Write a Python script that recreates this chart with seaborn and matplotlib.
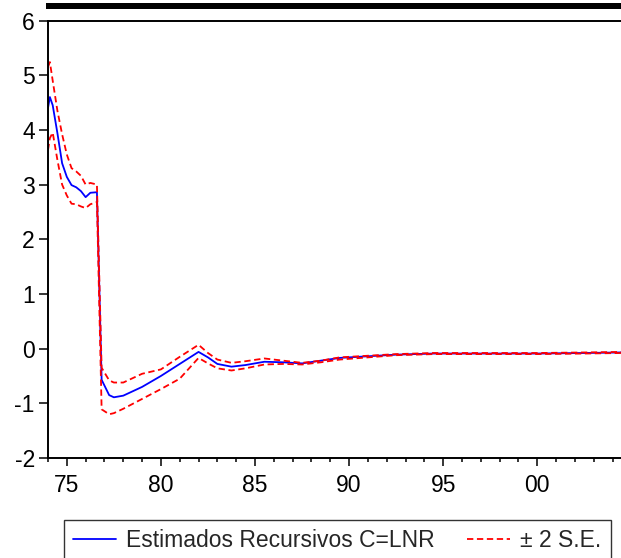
import numpy as np
import pandas as pd
import matplotlib
matplotlib.use("Agg")
import matplotlib.pyplot as plt
import matplotlib.patches as mpatches
from matplotlib.ticker import MultipleLocator, FixedLocator
import seaborn as sns

# valores (estimacion recursiva de C=LNR y bandas +/- 2 S.E.)
anios = [1974.0, 1974.1, 1974.25, 1974.5, 1974.75, 1975.0, 1975.25, 1975.5,
         1975.75, 1976.0, 1976.25, 1976.6, 1976.85, 1977.25, 1977.5, 1978.0,
         1979.0, 1980.0, 1981.0, 1982.0, 1982.5, 1983.0, 1983.75, 1984.5,
         1985.5, 1986.5, 1987.5, 1988.5, 1989.5, 1991.0, 1992.5, 1994.5,
         1997.0, 2000.0, 2002.5, 2004.5]
coef = [4.40, 4.60, 4.45, 3.94, 3.39, 3.14, 2.99, 2.95,
        2.88, 2.77, 2.85, 2.86, -0.57, -0.85, -0.89, -0.86,
        -0.70, -0.50, -0.28, -0.06, -0.16, -0.28, -0.33, -0.30,
        -0.24, -0.25, -0.27, -0.22, -0.17, -0.14, -0.11, -0.09,
        -0.09, -0.09, -0.08, -0.07]
banda_sup = [5.15, 5.24, 4.90, 4.35, 3.92, 3.55, 3.30, 3.24,
             3.16, 3.00, 3.03, 3.00, -0.35, -0.58, -0.62, -0.62,
             -0.46, -0.38, -0.15, 0.07, -0.08, -0.20, -0.26, -0.23,
             -0.18, -0.22, -0.26, -0.22, -0.16, -0.13, -0.10, -0.08,
             -0.08, -0.08, -0.07, -0.06]
banda_inf = [3.63, 3.85, 3.95, 3.45, 3.00, 2.80, 2.65, 2.64,
             2.60, 2.57, 2.64, 2.68, -1.11, -1.20, -1.18, -1.10,
             -0.92, -0.74, -0.55, -0.17, -0.27, -0.36, -0.40, -0.36,
             -0.29, -0.28, -0.29, -0.25, -0.20, -0.16, -0.12, -0.10,
             -0.10, -0.10, -0.09, -0.08]

xticks = [1975, 1980, 1985, 1990, 1995, 2000]
xtick_labels = ["75", "80", "85", "90", "95", "00"]

df = pd.DataFrame({"anio": anios, "coef": coef,
                   "sup": banda_sup, "inf": banda_inf})

sns.set_theme(style="white")
plt.rcParams["font.family"] = ["Liberation Sans", "DejaVu Sans"]
plt.rcParams["axes.unicode_minus"] = False

W, H = 621, 558
fig = plt.figure(figsize=(W / 100, H / 100), dpi=100)
ax = fig.add_axes([48 / W, 1 - 458 / H, 1 - 48 / W, (458 - 20.5) / H])

sns.lineplot(data=df, x="anio", y="coef", ax=ax, color="#0000ff",
             linewidth=1.3, label="Estimados Recursivos C=LNR")
sns.lineplot(data=df, x="anio", y="sup", ax=ax, color="#ff0000",
             linewidth=1.3, label="± 2 S.E.")
sns.lineplot(data=df, x="anio", y="inf", ax=ax, color="#ff0000",
             linewidth=1.3, label="_nolegend_")
for ln in ax.lines[1:]:
    ln.set_dashes((3.5, 2))

ax.set_xlim(1974, 2004.45)
ax.set_ylim(-2, 6)
ax.set_xlabel("")
ax.set_ylabel("")
ax.set_xticks(xticks)
ax.set_xticklabels(xtick_labels)
ax.xaxis.set_minor_locator(MultipleLocator(1))
ax.yaxis.set_major_locator(FixedLocator(range(-2, 7)))

for s in ["left", "bottom", "top"]:
    ax.spines[s].set_color("black")
    ax.spines[s].set_linewidth(1.4)
ax.spines["right"].set_visible(False)

ax.tick_params(axis="x", which="major", direction="out", length=5.8,
               width=1.1, color="black", labelsize=16.5, pad=6, bottom=True)
ax.tick_params(axis="x", which="minor", direction="out", length=2.9,
               width=1.1, color="black", bottom=True)
ax.tick_params(axis="y", which="major", direction="out", length=6.5,
               width=1.1, color="black", labelsize=16.5, pad=3, left=True)
ax.tick_params(colors="black", which="both")
ax.legend_.remove()

# barra negra superior (estilo EViews)
fig.add_artist(mpatches.Rectangle((46 / W, 1 - 9.3 / H), 1 - 46 / W, 6.3 / H,
                                  transform=fig.transFigure,
                                  facecolor="black", edgecolor="none"))

handles, labels = ax.get_legend_handles_labels()
leg = fig.legend(handles[:2], labels[:2], loc="upper left",
                 bbox_to_anchor=(64 / W, 1 - 520 / H), ncol=2,
                 frameon=True, fancybox=False, fontsize=16.5,
                 handlelength=1.88, handletextpad=0.44, columnspacing=1.4,
                 borderpad=0.4, borderaxespad=0)
leg.get_frame().set_edgecolor("black")
leg.get_frame().set_linewidth(1.0)

fig.savefig("out.png", dpi=100)
